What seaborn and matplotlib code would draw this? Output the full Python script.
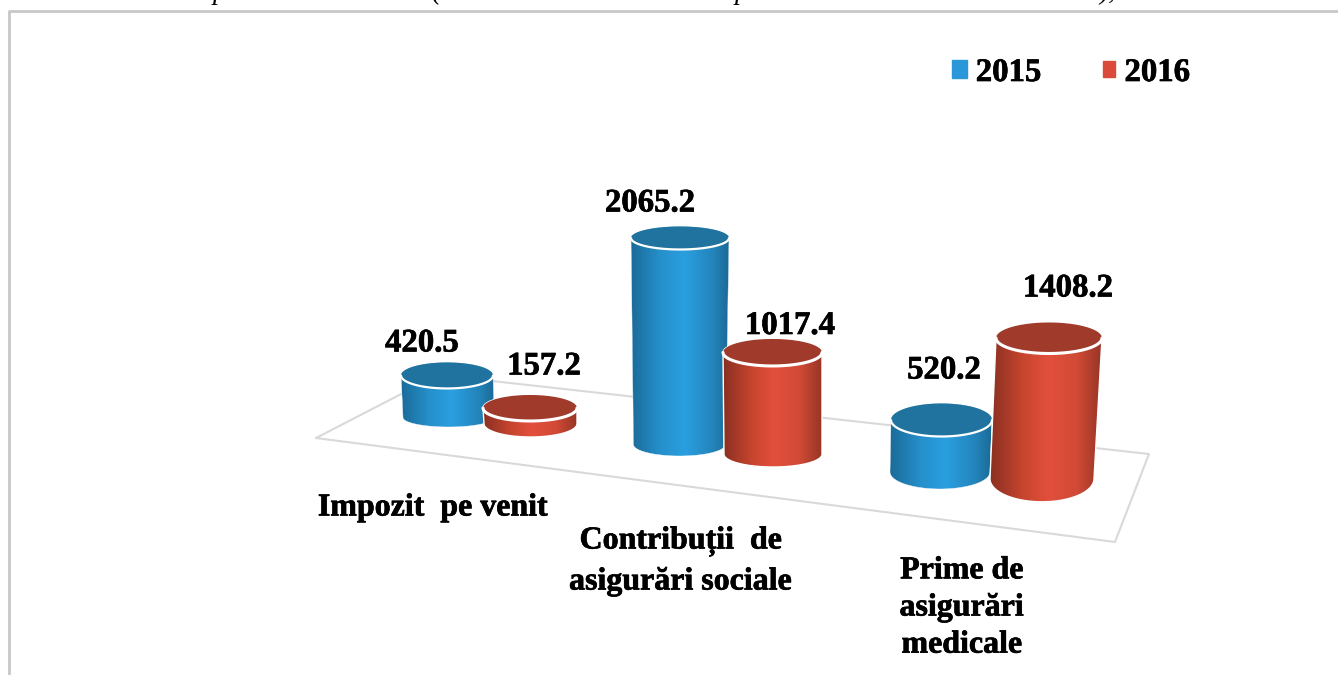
import numpy as np
import seaborn as sns
import matplotlib.pyplot as plt
import matplotlib.patheffects as pe
from matplotlib.colors import LinearSegmentedColormap
from matplotlib.patches import Patch, Polygon

# Values
categories = ['Impozit  pe venit', 'Contribuții  de\nasigurări sociale', 'Prime de\nasigurări\nmedicale']
values_2015 = [420.5, 2065.2, 520.2]
values_2016 = [157.2, 1017.4, 1408.2]
series_names = ['2015', '2016']

# Fake 3D layout in pixels, one entry per bar: 2015, 2016, 2015, 2016, ...
top_cx = [447, 530, 680, 772.5, 941.5, 1049]
top_hw = [46, 47, 49, 49.5, 50.5, 53]
bot_cx = [448.5, 530.5, 679.5, 773, 940, 1042]
bot_hw = [45.5, 46.5, 46, 49, 50, 52]
base_py = [417.5, 423.7, 444.5, 454.2, 472, 478.8]
top_bh = [13, 13, 11.5, 13.5, 16.5, 15.5]
bot_bh = [9.5, 13.3, 11.5, 12.8, 17, 23]
label_dx = [-25, 14, -30, 17.5, 2.5, 19]
label_dy = [32.5, 42, 35, 27, 50, 50]

W, H = 1338, 675
PX_PER_VALUE = 0.1
FONT = 'Liberation Serif'
GREY = '#d9d9d9'
HEAVY = [pe.withStroke(linewidth=0.5, foreground='black')]

sns.set_theme(style='white')
plt.rcParams['font.family'] = [FONT, 'DejaVu Sans']

fig = plt.figure(figsize=(W / 100, H / 100), dpi=100)
ax = fig.add_axes([0, 0, 1, 1])


def to_v(py):
    return (H - py) / PX_PER_VALUE


def half_ellipse(cx, cy, hw, bh, start, stop):
    t = np.linspace(start, stop, 60)
    return cx + hw * np.cos(t), cy + bh / PX_PER_VALUE * np.sin(t)


blue_cm = LinearSegmentedColormap.from_list('b', [(0, '#1b6b99'), (0.3, '#2590cb'), (0.55, '#2a9fe0'), (0.85, '#2383b9'), (1, '#1b6a96')])
red_cm = LinearSegmentedColormap.from_list('r', [(0, '#8a3022'), (0.3, '#c8452f'), (0.52, '#e2503c'), (0.78, '#d04a36'), (1, '#983526')])
series_color = ['#2a9fe0', '#e2503c']
legend_color = ['#2a98d8', '#d94a3a']
cap_color = ['#20739f', '#a03a2b']

# floor
floor_x = [316, 438, 1149, 1115, 316]
floor_y = [438, 375, 454, 542, 438]
ax.plot(floor_x, [to_v(p) for p in floor_y], color=GREY, lw=1.5, zorder=1)

# border of the pasted chart
ax.plot([8.5, 8.5, W], [to_v(H), to_v(11.3), to_v(11.3)], color='#c8c8c8', lw=2.0, zorder=1)

for i in range(6):
    s = i % 2
    value = (values_2015, values_2016)[s][i // 2]
    zo = 3 + i * 0.1
    base_v = to_v(base_py[i])
    sns.barplot(x=[(top_cx[i] + bot_cx[i]) / 2], y=[value], bottom=[base_v], native_scale=True,
                width=2 * max(top_hw[i], bot_hw[i]), color=series_color[s], saturation=1, ax=ax)
    bar = ax.containers[-1][0]
    top_v = bar.get_y() + bar.get_height()

    # cylinder outline: front of bottom ellipse + back of top ellipse
    xb, yb = half_ellipse(bot_cx[i], base_v, bot_hw[i], bot_bh[i], np.pi, 2 * np.pi)
    xt, yt = half_ellipse(top_cx[i], top_v, top_hw[i], top_bh[i], 0, np.pi)
    body = Polygon(np.column_stack([np.r_[xb, xt], np.r_[yb, yt]]), closed=True, transform=ax.transData,
                   fc='none', ec='white', lw=1.0 if s else 0.3, zorder=zo + 0.02)
    ax.add_patch(body)
    bar.set_zorder(zo)
    bar.set_clip_path(body)

    left = min(top_cx[i] - top_hw[i], bot_cx[i] - bot_hw[i])
    right = max(top_cx[i] + top_hw[i], bot_cx[i] + bot_hw[i])
    im = ax.imshow(np.linspace(0, 1, 200).reshape(1, -1), cmap=(blue_cm, red_cm)[s], aspect='auto',
                   extent=(left, right, base_v - bot_bh[i] / PX_PER_VALUE, top_v + top_bh[i] / PX_PER_VALUE),
                   zorder=zo + 0.01, interpolation='bilinear')
    im.set_clip_path(body)

    # top cap with the white rim on its front
    xc, yc = half_ellipse(top_cx[i], top_v, top_hw[i], top_bh[i], 0, 2 * np.pi)
    ax.fill(xc, yc, color=cap_color[s], lw=0, zorder=zo + 0.03)
    xr, yr = half_ellipse(top_cx[i], top_v, top_hw[i], top_bh[i], np.pi, 2 * np.pi)
    ax.plot(xr, yr, color='white', lw=2.2 if s else 1.6, zorder=zo + 0.04, solid_capstyle='round')

    ax.text(top_cx[i] + label_dx[i], top_v + label_dy[i] / PX_PER_VALUE, f'{value:.1f}', ha='center', va='center',
            fontsize=23.6, fontweight='bold', color='black', zorder=10, path_effects=HEAVY)

# category labels under the floor
label_x = [433, 681, 962]
label_y = [508, 561.5, 608]
label_spacing = [1.2, 1.5, 1.37]
for name, lx, ly, sp in zip(categories, label_x, label_y, label_spacing):
    ax.text(lx, to_v(ly), name, ha='center', va='center', multialignment='center', fontsize=23,
            fontweight='bold', color='black', linespacing=sp, zorder=10, path_effects=HEAVY)

# bits of the caption above, cut by the picture edge
for ch, cx in zip(['p', '(', 'p', '),'], [220, 436, 742, 1107]):
    ax.text(cx, to_v(-1), ch, ha='center', va='baseline', fontsize=20, fontstyle='italic', color='black')

handles = [Patch(color=c, label=n) for c, n in zip(legend_color, series_names)]
leg = fig.legend(handles=handles, loc='center left', bbox_to_anchor=(951.5 / W, 1 - 72.5 / H), ncol=2, frameon=False,
                 prop={'family': FONT, 'weight': 'bold', 'size': 23.6}, handlelength=0.46, handleheight=0.46,
                 handletextpad=0.28, columnspacing=1.8, borderpad=0, borderaxespad=0, labelcolor='black')
for t in leg.get_texts():
    t.set_path_effects(HEAVY)
# the 2016 square is a bit smaller in the original
small = leg.legend_handles[1]
small.set_x(small.get_x() + 2)
small.set_width(small.get_width() - 2.5)
small.set_y(small.get_y() + 0.7)
small.set_height(small.get_height() - 1.4)

ax.set_xlim(0, W)
ax.set_ylim(0, H / PX_PER_VALUE)
ax.set_axis_off()

fig.savefig('out.png', dpi=100, facecolor='white')
